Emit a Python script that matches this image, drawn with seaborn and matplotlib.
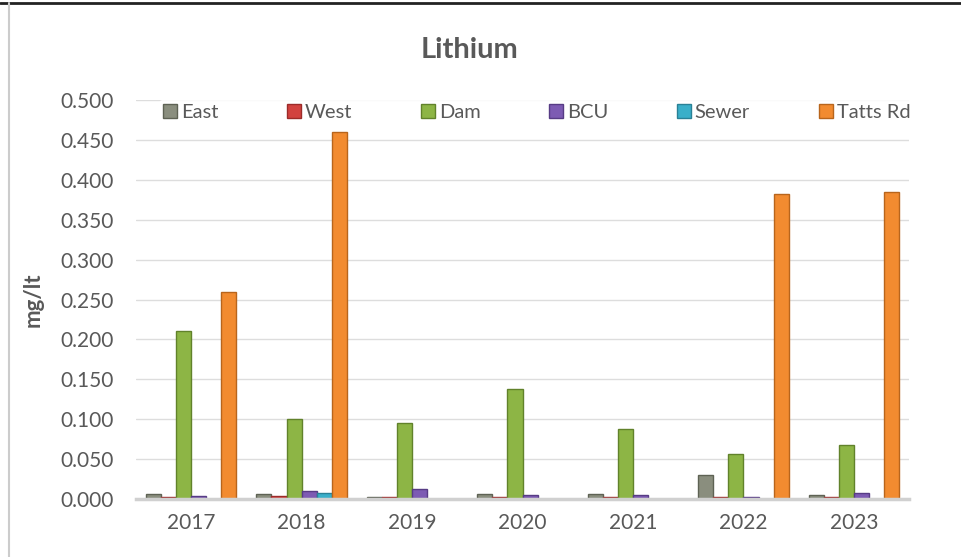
import pandas as pd
import numpy as np
import matplotlib
matplotlib.use("Agg")
import matplotlib.pyplot as plt
import seaborn as sns
from matplotlib.lines import Line2D

# values (mg/lt), NaN = no bar
years = ["2017", "2018", "2019", "2020", "2021", "2022", "2023"]
east = [0.006, 0.006, 0.003, 0.006, 0.006, 0.030, 0.005]
west = [0.002, 0.004, 0.002, 0.002, 0.002, 0.003, 0.002]
dam = [0.210, 0.100, 0.095, 0.138, 0.088, 0.057, 0.068]
bcu = [0.004, 0.010, 0.012, 0.005, 0.005, 0.003, 0.007]
sewer = [np.nan, 0.008, np.nan, np.nan, np.nan, np.nan, np.nan]
tatts = [0.260, 0.460, np.nan, np.nan, np.nan, 0.382, 0.385]

series = ["East", "West", "Dam", "BCU", "Sewer", "Tatts Rd"]
colors = ["#8A8E7E", "#D2423F", "#8DB545", "#7D5BB3", "#3AAFC9", "#F28B30"]
edges = ["#5E6254", "#9C2B29", "#61822B", "#573C85", "#2A8196", "#B8651C"]

df = pd.DataFrame({"year": years, "East": east, "West": west, "Dam": dam,
                   "BCU": bcu, "Sewer": sewer, "Tatts Rd": tatts})
long_df = df.melt(id_vars="year", var_name="site", value_name="mg")

sns.set_style("white")
plt.rcParams['font.family'] = ['Lato', 'DejaVu Sans']
txt = "#595959"

fig = plt.figure(figsize=(9.61, 5.57), dpi=100)
ax = fig.add_axes([0.1415, 0.104, 0.8045, 0.7165])

sns.barplot(data=long_df, x="year", y="mg", hue="site", hue_order=series,
            palette=colors, width=0.82, saturation=1, ax=ax, legend=True)

for cont, ec in zip(ax.containers, edges):
    for bar in cont:
        bar.set_edgecolor(ec)
        bar.set_linewidth(1.0)

ax.set_ylim(0, 0.5)
ax.set_xlim(-0.5, len(years) - 0.5)
ax.set_yticks(np.arange(0, 0.501, 0.05))
ax.set_yticklabels([f"{v:.3f}" for v in np.arange(0, 0.501, 0.05)])
ax.yaxis.grid(True, color="#DDDDDD", linewidth=1)
ax.set_axisbelow(True)
for s in ["top", "right", "left"]:
    ax.spines[s].set_visible(False)
ax.spines["bottom"].set_color("#D0D0D0")
ax.spines["bottom"].set_linewidth(2.5)
ax.tick_params(axis="both", length=0, labelsize=15, colors=txt, pad=10)
ax.tick_params(axis="y", pad=16)
ax.set_xlabel("")
ax.set_ylabel("mg/lt", fontsize=16, fontweight="bold", color=txt)
ax.yaxis.set_label_coords(-0.12, 0.5)

fig.text(0.489, 0.91, "Lithium", fontsize=21, fontweight="bold", color=txt,
         ha="center", va="center")

leg = ax.legend(loc="upper center", bbox_to_anchor=(0.518, 1.025), ncol=6,
                frameon=True, facecolor="white", edgecolor="white",
                fontsize=14.5, handlelength=0.7, handleheight=0.7,
                handletextpad=0.2, columnspacing=3.4, borderpad=0.2)
for t in leg.get_texts():
    t.set_color(txt)
for h, ec in zip(leg.legend_handles, edges):
    h.set_edgecolor(ec)

# frame lines from the screenshot
fig.add_artist(Line2D([0, 1], [0.994, 0.994], color="#222222", linewidth=2))
fig.add_artist(Line2D([0.009, 0.009], [0, 0.994], color="#CCCCCC", linewidth=1.5))

plt.savefig("out.png", dpi=100)
plt.close()
